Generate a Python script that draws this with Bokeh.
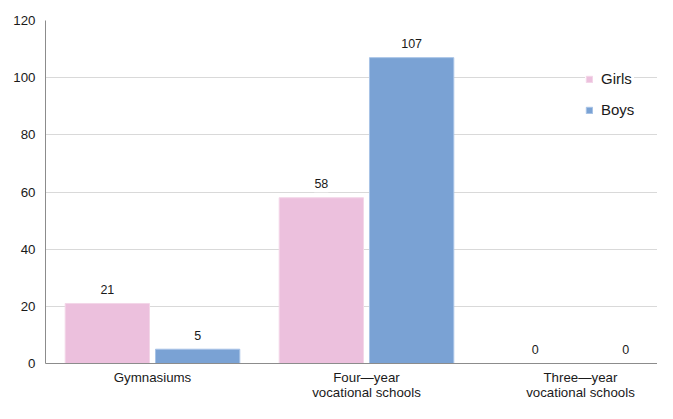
from bokeh.plotting import figure
from bokeh.models import ColumnDataSource, Range1d, FixedTicker, LabelSet, Legend, LegendItem
from bokeh.core.properties import value
from bokeh.transform import dodge
from bokeh.embed import file_html
from bokeh.resources import INLINE

categories = ["Gymnasiums", "Four\u2014year\nvocational schools", "Three\u2014year\nvocational schools"]
girls = [21, 58, 0]
boys = [5, 107, 0]
y_ticks = [0, 20, 40, 60, 80, 100, 120]

idx = list(range(len(categories)))
src = ColumnDataSource(dict(idx=idx, girls=girls, boys=boys,
                            girls_lbl=[str(v) for v in girls],
                            boys_lbl=[str(v) for v in boys]))

FONT = "Liberation Sans"
GIRLS_C = "#ecc0dd"
BOYS_C = "#7aa2d4"

p = figure(width=657, height=403, output_backend="svg", toolbar_location=None,
           x_range=Range1d(-0.5, 2.36), y_range=Range1d(0, 120),
           min_border_left=45, min_border_right=0, min_border_top=20, min_border_bottom=36)
p.outline_line_color = None
p.background_fill_color = "white"
p.border_fill_color = "white"

off = 0.211
w = 0.394
r_g = p.vbar(x=dodge("idx", -off, range=p.x_range), top="girls", width=w, source=src,
             fill_color=GIRLS_C, line_color="#f3d6e8", line_width=1)
r_b = p.vbar(x=dodge("idx", off, range=p.x_range), top="boys", width=w, source=src,
             fill_color=BOYS_C, line_color="#a8c3e6", line_width=1)

for col, o in (("girls", -off), ("boys", off)):
    ls = LabelSet(x=dodge("idx", o, range=p.x_range), y=col, text=col + "_lbl", source=src,
                  text_align="center", text_baseline="middle", y_offset=14,
                  text_font=value(FONT), text_font_size="12.5px", text_color="#1a1a1a",
                  background_fill_color="white", border_line_color="white", border_line_width=8)
    p.add_layout(ls)

p.xgrid.grid_line_color = None
p.ygrid.grid_line_color = "#d9d9d9"
p.ygrid.grid_line_width = 1
p.yaxis.ticker = FixedTicker(ticks=y_ticks)
p.xaxis.ticker = FixedTicker(ticks=idx)
p.xaxis.major_label_overrides = {i: c for i, c in zip(idx, categories)}

for ax in (p.xaxis, p.yaxis):
    ax.axis_line_color = "#8c8c8c"
    ax.major_tick_line_color = None
    ax.minor_tick_line_color = None
    ax.major_tick_out = 0
    ax.major_tick_in = 0
    ax.minor_tick_out = 0
    ax.major_label_text_font = FONT
    ax.major_label_text_font_size = "13.3px"
    ax.major_label_text_color = "#1a1a1a"
p.yaxis.major_label_standoff = 10
p.xaxis.major_label_standoff = 6
p.xaxis.major_label_text_line_height = 1.05

legend = Legend(items=[LegendItem(label="Girls", renderers=[r_g]),
                       LegendItem(label="Boys", renderers=[r_b])],
                location=(540, 245), orientation="vertical",
                glyph_width=8, glyph_height=8, label_standoff=8,
                label_text_font=FONT, label_text_font_size="15px", label_text_color="#1a1a1a",
                spacing=14, padding=12, margin=0,
                border_line_color=None, background_fill_color="white", background_fill_alpha=1)
p.add_layout(legend)

open("out.html", "w").write(file_html(p, INLINE))
